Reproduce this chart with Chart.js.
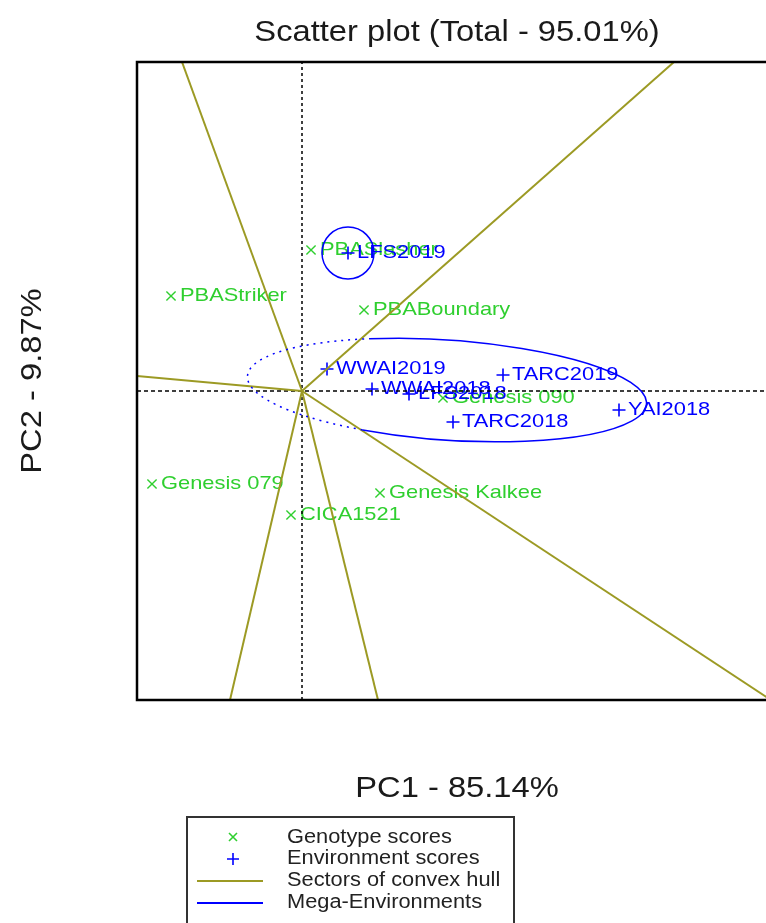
<!DOCTYPE html>
<html>
<head>
<meta charset="utf-8">
<title>Scatter plot (Total - 95.01%)</title>
<script src="https://cdn.jsdelivr.net/npm/chart.js@4/dist/chart.umd.min.js"></script>
<style>
  html, body { margin: 0; padding: 0; background: #fff; overflow: hidden; }
  #wrap { width: 766px; height: 923px; overflow: hidden; position: relative; }
  canvas { display: block; }
</style>
</head>
<body>
<div id="wrap"><canvas id="biplot" width="800" height="923"></canvas></div>
<script>
// ---- Biplot scores (PC1, PC2) ----
const genotypeNames = ['PBASlasher', 'PBAStriker', 'PBABoundary', 'Genesis 090', 'Genesis 079', 'Genesis Kalkee', 'CICA1521'];
const genotypePC1 = [0.18, -2.62, 1.24, 2.82, -3.00, 1.56, -0.22];
const genotypePC2 = [2.82, 1.90, 1.62, -0.14, -1.86, -2.04, -2.48];

const environmentNames = ['LFS2019', 'WWAI2019', 'WWAI2018', 'LFS2018', 'TARC2019', 'TARC2018', 'YAI2018'];
const environmentPC1 = [0.92, 0.50, 1.40, 2.14, 4.02, 3.02, 6.34];
const environmentPC2 = [2.76, 0.44, 0.04, -0.06, 0.32, -0.62, -0.38];

// Sector rays of the convex hull, from the origin to the plot edge
const sectorEndPC1 = [-2.40, 7.44, -3.30, -1.44, 1.52, 9.38];
const sectorEndPC2 = [6.58, 6.58, 0.30, -6.18, -6.18, -6.18];

// Axis limits
const pc1Range = [-3.30, 9.50];
const pc2Range = [-6.18, 6.58];

// Mega-environments: a circle around LFS2019 and an ellipse around the main group
const circleCenter = [0.92, 2.76];
const circleRadius = 0.52;
const ellipseCenter = [2.90, 0.02];
const ellipseRadii = [4.0, 1.0];
const ellipseTiltDeg = 4;
const ellipseDottedArcDeg = [114, 246];

const COL_GENO = '#2fcf2f';
const COL_ENV = '#0000ff';
const COL_SECTOR = '#9c9a24';
const FONT = '"Liberation Sans", Arial, sans-serif';

const toPoints = (xs, ys) => xs.map((x, i) => ({ x, y: ys[i] }));

const datasets = [];
// reference axes through the origin
datasets.push({
  type: 'line', data: [{ x: pc1Range[0], y: 0 }, { x: pc1Range[1], y: 0 }],
  borderColor: '#000', borderWidth: 1.5, borderDash: [4, 3], pointRadius: 0, order: 3
});
datasets.push({
  type: 'line', data: [{ x: 0, y: pc2Range[0] }, { x: 0, y: pc2Range[1] }],
  borderColor: '#000', borderWidth: 1.5, borderDash: [3, 3], pointRadius: 0, order: 3
});
// sector rays
sectorEndPC1.forEach((x, i) => {
  datasets.push({
    type: 'line', data: [{ x: 0, y: 0 }, { x, y: sectorEndPC2[i] }],
    borderColor: COL_SECTOR, borderWidth: 2, pointRadius: 0, order: 2
  });
});
// score points
datasets.push({
  type: 'scatter', label: 'Genotype scores', data: toPoints(genotypePC1, genotypePC2),
  pointStyle: 'crossRot', pointRadius: 6.5, borderColor: COL_GENO, backgroundColor: COL_GENO,
  borderWidth: 1.4, labelNames: genotypeNames, order: 10
});
datasets.push({
  type: 'scatter', label: 'Environment scores', data: toPoints(environmentPC1, environmentPC2),
  pointStyle: 'cross', pointRadius: 6.5, borderColor: COL_ENV, backgroundColor: COL_ENV,
  borderWidth: 1.6, labelNames: environmentNames, order: 9
});

// Text drawn slightly widened, like the device font of the original plot
function wideText(ctx, text, x, y, sx, rot) {
  ctx.save();
  ctx.translate(x, y);
  if (rot) ctx.rotate(rot);
  ctx.scale(sx, 1);
  ctx.fillText(text, 0, 0);
  ctx.restore();
}

const scoreLabels = {
  id: 'scoreLabels',
  afterDatasetDraw(chart, args) {
    const ds = chart.data.datasets[args.index];
    if (!ds.labelNames) return;
    const ctx = chart.ctx;
    ctx.save();
    ctx.font = '19px ' + FONT;
    ctx.fillStyle = ds.borderColor;
    ctx.textAlign = 'left';
    ctx.textBaseline = 'alphabetic';
    args.meta.data.forEach((pt, i) => {
      wideText(ctx, ds.labelNames[i], pt.x + 9, pt.y + 5, 1.15);
    });
    ctx.restore();
  }
};

const megaEnvironments = {
  id: 'megaEnvironments',
  afterDatasetsDraw(chart) {
    const { ctx, scales: { x: sx, y: sy }, chartArea: a } = chart;
    const deg = Math.PI / 180;
    ctx.save();
    ctx.beginPath();
    ctx.rect(a.left, a.top, a.right - a.left, a.bottom - a.top);
    ctx.clip();
    ctx.strokeStyle = COL_ENV;
    ctx.lineWidth = 1.5;
    // circle
    const ccx = sx.getPixelForValue(circleCenter[0]);
    const ccy = sy.getPixelForValue(circleCenter[1]);
    const cr = sx.getPixelForValue(circleCenter[0] + circleRadius) - ccx;
    ctx.beginPath();
    ctx.arc(ccx, ccy, cr, 0, 2 * Math.PI);
    ctx.stroke();
    // ellipse
    const ex = sx.getPixelForValue(ellipseCenter[0]);
    const ey = sy.getPixelForValue(ellipseCenter[1]);
    const rx = sx.getPixelForValue(ellipseCenter[0] + ellipseRadii[0]) - ex;
    const ry = sy.getPixelForValue(ellipseCenter[1]) - sy.getPixelForValue(ellipseCenter[1] + ellipseRadii[1]);
    const tilt = ellipseTiltDeg * deg;
    ctx.beginPath();
    ctx.ellipse(ex, ey, rx, ry, tilt, (ellipseDottedArcDeg[1] - 360) * deg, ellipseDottedArcDeg[0] * deg);
    ctx.stroke();
    ctx.setLineDash([2, 5]);
    ctx.beginPath();
    ctx.ellipse(ex, ey, rx, ry, tilt, ellipseDottedArcDeg[0] * deg, ellipseDottedArcDeg[1] * deg);
    ctx.stroke();
    ctx.restore();
  },
  afterDraw(chart) {
    const { ctx, chartArea: a } = chart;
    ctx.save();
    // plot frame
    ctx.strokeStyle = '#000';
    ctx.lineWidth = 2.5;
    ctx.strokeRect(a.left, a.top, a.right - a.left, a.bottom - a.top);
    // titles
    const midX = (a.left + a.right) / 2;
    ctx.fillStyle = '#1a1a1a';
    ctx.textAlign = 'center';
    ctx.textBaseline = 'middle';
    ctx.font = '30px ' + FONT;
    wideText(ctx, 'Scatter plot (Total - 95.01%)', midX, 33, 1.09);
    wideText(ctx, 'PC1 - 85.14%', midX, 789, 1.09);
    wideText(ctx, 'PC2 - 9.87%', 33, (a.top + a.bottom) / 2, 1.09, -Math.PI / 2);
    // legend
    ctx.strokeStyle = '#333';
    ctx.lineWidth = 2;
    ctx.strokeRect(187, 817, 327, 130);
    const rows = [837, 858, 880, 902];
    ctx.lineWidth = 1.6;
    ctx.strokeStyle = COL_GENO;
    ctx.beginPath();
    ctx.moveTo(229, 833); ctx.lineTo(237, 841);
    ctx.moveTo(237, 833); ctx.lineTo(229, 841);
    ctx.stroke();
    ctx.strokeStyle = COL_ENV;
    ctx.beginPath();
    ctx.moveTo(227, 859); ctx.lineTo(239, 859);
    ctx.moveTo(233, 853); ctx.lineTo(233, 865);
    ctx.stroke();
    ctx.lineWidth = 2;
    ctx.strokeStyle = COL_SECTOR;
    ctx.beginPath(); ctx.moveTo(197, 881); ctx.lineTo(263, 881); ctx.stroke();
    ctx.strokeStyle = COL_ENV;
    ctx.beginPath(); ctx.moveTo(197, 903); ctx.lineTo(263, 903); ctx.stroke();
    ctx.fillStyle = '#222';
    ctx.textAlign = 'left';
    ctx.font = '20px ' + FONT;
    ['Genotype scores', 'Environment scores', 'Sectors of convex hull', 'Mega-Environments']
      .forEach((t, i) => wideText(ctx, t, 287, rows[i], 1.09));
    ctx.restore();
  }
};

new Chart(document.getElementById('biplot'), {
  type: 'scatter',
  data: { datasets },
  options: {
    responsive: false,
    animation: false,
    events: [],
    layout: { padding: { left: 137, top: 62, right: 23, bottom: 223 } },
    scales: {
      x: { type: 'linear', min: pc1Range[0], max: pc1Range[1], display: false },
      y: { type: 'linear', min: pc2Range[0], max: pc2Range[1], display: false }
    },
    plugins: { legend: { display: false }, title: { display: false }, tooltip: { enabled: false } }
  },
  plugins: [scoreLabels, megaEnvironments]
});
</script>
</body>
</html>
